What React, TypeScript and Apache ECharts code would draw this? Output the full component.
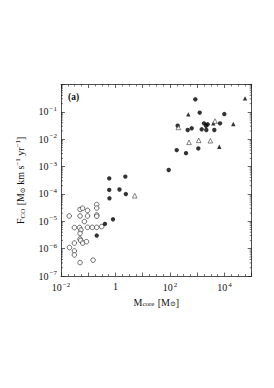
import React, { useEffect, useRef } from "react";
import * as echarts from "echarts";

// [M_core (Msun), F_CO (Msun km/s/yr)]
const openCircles: [number, number][] = [
  [0.02, 1.56e-5], [0.031, 5.9e-6], [0.05, 2.7e-5], [0.062, 3.0e-5], [0.094, 2.5e-5],
  [0.05, 1.56e-5], [0.094, 1.56e-5], [0.072, 9.8e-6], [0.048, 5.9e-6], [0.054, 4.8e-6],
  [0.05, 3.6e-6], [0.05, 2.25e-6], [0.053, 2.0e-6], [0.094, 6.0e-6], [0.205, 4.1e-5],
  [0.205, 3.05e-5], [0.205, 1.7e-5], [0.205, 1.52e-5], [0.205, 6.0e-6], [0.141, 6.0e-6],
  [0.312, 6.4e-6], [0.031, 1.6e-6], [0.0205, 1.1e-6], [0.031, 8.2e-7], [0.031, 5.9e-7],
  [0.063, 1.6e-6], [0.086, 1.8e-6], [0.05, 3.1e-7], [0.15, 3.8e-7],
];
const filledCircles: [number, number][] = [
  [0.59, 3.7e-4], [2.3, 4.3e-4], [0.59, 1.4e-4], [1.4, 1.45e-4], [2.4, 9.9e-5],
  [0.6, 6.9e-5], [0.81, 1.18e-5], [0.41, 8.0e-6], [0.205, 3.0e-6], [90, 7.5e-4],
  [851, 0.287], [1236, 0.093], [9886, 0.083], [192, 0.031], [448, 0.0217],
  [628, 0.025], [1462, 0.023], [1778, 0.038], [2104, 0.031], [2427, 0.035],
  [2158, 0.0217], [6871, 0.038], [4246, 0.0217], [177, 0.004], [1096, 0.0046],
  [388, 0.0031],
];
const filledTriangles: [number, number][] = [
  [471, 0.081], [56900, 0.31], [3900, 0.038], [21100, 0.036], [6470, 0.0053],
];
const openTriangles: [number, number][] = [
  [202, 0.027], [4500, 0.046], [500, 0.0077], [1135, 0.0091], [3030, 0.0088], [5.1, 8.6e-5],
];

// axis extents (log10 decades)
const xDecades = [-2, 5];
const yDecades = [-7, 0];
const xLabelledDecades = [-2, 0, 2, 4];
const yLabelledDecades = [-7, -6, -5, -4, -3, -2, -1];
const yMinorMultipliers = [2, 3, 4, 5, 6, 7, 8, 9];

const FONT = "'Liberation Serif', 'DejaVu Serif', serif";

const toLog = (d: [number, number][]) => d.map(([m, f]) => [Math.log10(m), Math.log10(f)]);

const expLabel = (e: number) =>
  e === 0 ? "{b|1}" : `{b|10}{s|${e < 0 ? "\u2212" : ""}${Math.abs(e)}}`;

const rich = {
  b: { fontSize: 10, fontFamily: FONT, color: "#111" },
  s: { fontSize: 7, fontFamily: FONT, color: "#111", padding: [0, 0, 6, 1] },
};

export default function App() {
  const ref = useRef<HTMLDivElement>(null);
  useEffect(() => {
    if (!ref.current) return;
    const chart = echarts.init(ref.current, undefined, { renderer: "svg" });

    const yMinor: number[][] = [];
    for (let n = yDecades[0]; n < yDecades[1]; n++) {
      for (const k of yMinorMultipliers) yMinor.push([xDecades[0], n + Math.log10(k)]);
    }

    const axisLine = { show: true, onZero: false, lineStyle: { color: "#222", width: 0.8 } };
    const baseX = {
      type: "value" as const,
      min: xDecades[0],
      max: xDecades[1],
      interval: 1,
      axisLine,
      axisTick: { show: true, inside: true, length: 3.5, lineStyle: { color: "#222", width: 0.7 } },
      minorTick: { show: true, splitNumber: 4, length: 2, lineStyle: { color: "#222", width: 0.6 } },
      splitLine: { show: false },
      minorSplitLine: { show: false },
    };
    const baseY = {
      type: "value" as const,
      min: yDecades[0],
      max: yDecades[1],
      interval: 1,
      axisLine,
      axisTick: { show: true, inside: true, length: 4, lineStyle: { color: "#222", width: 0.7 } },
      splitLine: { show: false },
    };

    chart.setOption({
      animation: false,
      backgroundColor: "#fff",
      grid: { left: 61, top: 84.5, right: 22.3, bottom: 112 },
      xAxis: [
        {
          ...baseX,
          position: "bottom",
          name: "{b|M}{sub|core} {b|[M}{sub|\u2299}{b|]}",
          nameLocation: "middle",
          nameGap: 20,
          nameTextStyle: {
            rich: {
              b: { fontSize: 10, fontFamily: FONT, color: "#111" },
              sub: { fontSize: 7, fontFamily: FONT, color: "#111", padding: [4, 0, 0, 0] },
            },
          },
          axisLabel: {
            show: true,
            margin: 5,
            formatter: (v: number) => (xLabelledDecades.includes(v) ? expLabel(v) : ""),
            rich,
          },
        },
        { ...baseX, position: "top", axisLabel: { show: false } },
      ],
      yAxis: [
        {
          ...baseY,
          position: "left",
          name:
            "{b|F}{sub|CO} {b|[M}{sub|\u2299}{b| km s}{sup|\u22121}{b| yr}{sup|\u22121}{b|]}",
          nameLocation: "middle",
          nameGap: 34,
          nameTextStyle: {
            rich: {
              b: { fontSize: 10, fontFamily: FONT, color: "#111" },
              sub: { fontSize: 7, fontFamily: FONT, color: "#111", padding: [4, 0, 0, 0] },
              sup: { fontSize: 7, fontFamily: FONT, color: "#111", padding: [0, 0, 6, 0] },
            },
          },
          axisLabel: {
            show: true,
            margin: 4,
            formatter: (v: number) => (yLabelledDecades.includes(v) ? expLabel(v) : ""),
            rich,
          },
        },
        { ...baseY, position: "right", axisLabel: { show: false } },
      ],
      graphic: [
        {
          type: "text",
          left: 68,
          top: 92,
          style: { text: "(a)", font: `bold 9.5px ${FONT}`, fill: "#111" },
        },
      ],
      series: [
        {
          type: "custom",
          silent: true,
          clip: false,
          data: yMinor,
          renderItem: (params: any, api: any) => {
            const y = api.value(1);
            const p = api.coord([xDecades[0], y]);
            const q = api.coord([xDecades[1], y]);
            const st = { stroke: "#222", lineWidth: 0.6 };
            return {
              type: "group",
              children: [
                { type: "line", shape: { x1: p[0], y1: p[1], x2: p[0] + 2, y2: p[1] }, style: st },
                { type: "line", shape: { x1: q[0] - 2, y1: q[1], x2: q[0], y2: q[1] }, style: st },
              ],
            };
          },
        },
        {
          type: "scatter",
          data: toLog(openCircles),
          symbol: "circle",
          symbolSize: 4.6,
          itemStyle: { color: "#fff", borderColor: "#000", borderWidth: 0.7 },
        },
        {
          type: "scatter",
          data: toLog(filledCircles),
          symbol: "circle",
          symbolSize: 4.4,
          itemStyle: { color: "#000" },
        },
        {
          type: "scatter",
          data: toLog(filledTriangles),
          symbol: "triangle",
          symbolSize: 4.4,
          itemStyle: { color: "#000" },
        },
        {
          type: "scatter",
          data: toLog(openTriangles),
          symbol: "triangle",
          symbolSize: 4.6,
          itemStyle: { color: "#fff", borderColor: "#000", borderWidth: 0.6 },
        },
      ],
    });
    return () => chart.dispose();
  }, []);
  return (
    <div
      ref={ref}
      style={{ position: "fixed", left: 0, top: 0, width: 274, height: 388, background: "#fff" }}
    />
  );
}
